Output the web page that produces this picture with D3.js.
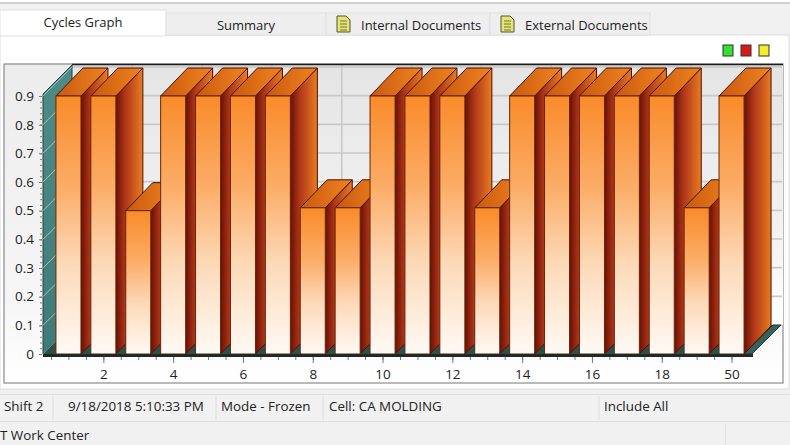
<!DOCTYPE html>
<html>
<head>
<meta charset="utf-8">
<script src="https://cdn.jsdelivr.net/npm/d3@7"></script>
<style>
  html, body { margin: 0; padding: 0; background: #fff; }
  svg { display: block; }
  text { font-family: "Open Sans", "Noto Sans", sans-serif; fill: #222; }
</style>
</head>
<body>
<svg id="chart" width="790" height="445"></svg>
<script>
"use strict";

// bars
const cycles = [1, 2, 3, 4, 5, 6, 7, 8, 9, 10, 11, 12, 13, 14, 15, 16, 17, 18, 19, 20];
const cycleValues = [0.9, 0.9, 0.5, 0.9, 0.9, 0.9, 0.9, 0.51, 0.51, 0.9, 0.9, 0.9, 0.51, 0.9, 0.9, 0.9, 0.9, 0.9, 0.51, 0.9];
const yTicks = [0, 0.1, 0.2, 0.3, 0.4, 0.5, 0.6, 0.7, 0.8, 0.9];
const xMajorTicks = [2, 4, 6, 8, 10, 12, 14, 16, 18, 20];
const xMajorLabels = ["2", "4", "6", "8", "10", "12", "14", "16", "18", "50"]; // the "50" is what the screen shows

const tabNames = ["Cycles Graph", "Summary", "Internal Documents", "External Documents"];
const statusCells = ["Shift 2", "9/18/2018 5:10:33 PM", "Mode - Frozen", "Cell: CA MOLDING", "Include All"];
const legendColors = ["#35e02e", "#d81a14", "#f7ec2c"];

const svg = d3.select("#chart");
const defs = svg.append("defs");

function gradient(id, x2, y2, stops) {
  const g = defs.append("linearGradient").attr("id", id)
    .attr("x1", 0).attr("y1", 0).attr("x2", x2).attr("y2", y2);
  stops.forEach(([o, c]) => g.append("stop").attr("offset", o).attr("stop-color", c));
}
gradient("front", 0, 1, [[0, "#f98b2a"], [0.35, "#fbac66"], [0.65, "#fcd9b8"], [1, "#fffaf5"]]);
gradient("top", 1, 0, [[0, "#c9590f"], [1, "#ef8420"]]);
gradient("side", 1, 0, [[0, "#6a1004"], [0.35, "#b0371a"], [1, "#e87c20"]]);
gradient("wallBack", 0, 1, [[0, "#e4e4e4"], [0.7, "#f4f4f4"], [1, "#ffffff"]]);
gradient("frameBg", 0, 1, [[0, "#ececec"], [0.75, "#f6f6f6"], [1, "#ffffff"]]);
gradient("tealWall", 0, 1, [[0, "#4f8c88"], [1, "#3f7c79"]]);

// page chrome
svg.append("rect").attr("width", 790).attr("height", 445).attr("fill", "#f1f1f1");
svg.append("rect").attr("width", 790).attr("height", 3).attr("fill", "#fff");
svg.append("line").attr("x1", 0).attr("x2", 790).attr("y1", 3).attr("y2", 3).attr("stroke", "#a9a9a9");
svg.append("rect").attr("x", 0).attr("y", 35).attr("width", 789).attr("height", 354).attr("fill", "#fff").attr("stroke", "#dcdcdc");

// tabs
const tabEdges = [0, 166, 326, 490, 650];
tabNames.forEach((name, i) => {
  const active = i === 0;
  svg.append("rect").attr("x", tabEdges[i]).attr("y", active ? 10 : 13)
    .attr("width", tabEdges[i + 1] - tabEdges[i]).attr("height", active ? 26 : 22)
    .attr("fill", active ? "#fff" : "#eeeeee").attr("stroke", "#e0e0e0");
  const hasIcon = i >= 2;
  if (hasIcon) {
    const ix = tabEdges[i] + 11;
    svg.append("path").attr("d", `M${ix},16 h9 l4,4 v12 h-13 z`)
      .attr("fill", "#e6e27a").attr("stroke", "#55552a");
    [21, 24, 27, 30].forEach((ly) => svg.append("line")
      .attr("x1", ix + 3).attr("x2", ix + 10).attr("y1", ly).attr("y2", ly).attr("stroke", "#6f7a2a"));
  }
  svg.append("text").text(name)
    .attr("x", active ? 83 : hasIcon ? tabEdges[i] + 35 : 246)
    .attr("y", active ? 27 : 30)
    .attr("text-anchor", hasIcon ? "start" : "middle")
    .attr("font-size", 13);
});

// legend squares
const legendX = d3.scalePoint().domain(legendColors).range([728, 764]);
svg.selectAll("rect.legend").data(legendColors).enter().append("rect")
  .attr("class", "legend")
  .attr("x", (d) => legendX(d) - 5).attr("y", 45)
  .attr("width", 10).attr("height", 11)
  .attr("fill", (d) => d).attr("stroke", "#333");

// chart frame
svg.append("rect").attr("x", 4).attr("y", 64).attr("width", 779).attr("height", 319)
  .attr("fill", "url(#frameBg)").attr("stroke", "#8a8a8a").attr("stroke-width", 1.2);

const x = d3.scaleBand().domain(cycles).range([51, 749]).padding(0.283).paddingOuter(0.1415);
const xLin = d3.scaleLinear().domain([0.5, 20.5]).range([51, 749]);
const y = d3.scaleLinear().domain([0, 0.907]).range([354, 94]);

const barDx = 27, barDy = 28; // depth of a bar
const wallDx = 29, wallDy = 29; // depth of the chart box
const left = 43, right = 752;

// back wall
svg.append("rect").attr("x", left + wallDx).attr("y", y(0.907) - wallDy - 1)
  .attr("width", 783 - left - wallDx).attr("height", y(0) - y(0.907) + 1)
  .attr("fill", "url(#wallBack)");

// back wall grid
const grid = svg.append("g").attr("stroke", "#c9c9c9").attr("stroke-width", 1.6);
grid.selectAll("line.h").data(yTicks).enter().append("line")
  .attr("x1", left + wallDx).attr("x2", 782)
  .attr("y1", (d) => y(d) - wallDy).attr("y2", (d) => y(d) - wallDy);
grid.selectAll("line.v").data(xMajorTicks).enter().append("line")
  .attr("x1", (d) => xLin(d) + wallDx).attr("x2", (d) => xLin(d) + wallDx)
  .attr("y1", y(0.907) - wallDy).attr("y2", y(0) - wallDy);

svg.append("line").attr("x1", left + wallDx).attr("x2", 783)
  .attr("y1", y(0.907) - wallDy - 0.5).attr("y2", y(0.907) - wallDy - 0.5)
  .attr("stroke", "#1c1c1c").attr("stroke-width", 1.5);

// left teal wall and floor
svg.append("path")
  .attr("d", `M${left},${y(0)} L${left},${y(0.907)} L${left + wallDx},${y(0.907) - wallDy} L${left + wallDx},${y(0) - wallDy} Z`)
  .attr("fill", "url(#tealWall)").attr("stroke", "#24403f");
svg.selectAll("line.wallgrid").data(yTicks).enter().append("line")
  .attr("x1", left).attr("x2", left + wallDx)
  .attr("y1", (d) => y(d)).attr("y2", (d) => y(d) - wallDy)
  .attr("stroke", "#b4d4d0").attr("stroke-width", 0.8);
svg.append("path")
  .attr("d", `M${left},${y(0)} L${right},${y(0)} L${right + wallDx},${y(0) - wallDy} L${left + wallDx},${y(0) - wallDy} Z`)
  .attr("fill", "#2c4f4c");
svg.append("path")
  .attr("d", `M${right - 8},${y(0)} L${right},${y(0)} L${right + wallDx},${y(0) - wallDy} L${right + wallDx - 8},${y(0) - wallDy} Z`)
  .attr("fill", "#33625f").attr("stroke", "#1e2a28").attr("stroke-width", 0.8);

// bars, left to right so each one overlaps its neighbour's side
const bars = svg.selectAll("g.bar").data(cycles.map((c, i) => ({ c, v: cycleValues[i] })))
  .enter().append("g").attr("class", "bar");
const bw = x.bandwidth();

bars.append("path")
  .attr("d", (d) => {
    const r = x(d.c) + bw;
    return `M${r},${y(d.v)} L${r + barDx},${y(d.v) - barDy} L${r + barDx},${y(0) - barDy} L${r},${y(0)} Z`;
  })
  .attr("fill", "url(#side)").attr("stroke", "#4a1004").attr("stroke-width", 1);
bars.append("path")
  .attr("d", (d) => {
    const l = x(d.c);
    return `M${l},${y(d.v)} L${l + barDx},${y(d.v) - barDy} L${l + bw + barDx},${y(d.v) - barDy} L${l + bw},${y(d.v)} Z`;
  })
  .attr("fill", "url(#top)").attr("stroke", "#4a1004").attr("stroke-width", 1);
bars.append("rect")
  .attr("x", (d) => x(d.c)).attr("y", (d) => y(d.v))
  .attr("width", bw).attr("height", (d) => y(0) - y(d.v))
  .attr("fill", "url(#front)").attr("stroke", "#6a2406").attr("stroke-width", 1);

// thick front edge of the floor
svg.append("line").attr("x1", left).attr("x2", right + 1).attr("y1", y(0) + 1.5).attr("y2", y(0) + 1.5)
  .attr("stroke", "#1e2a28").attr("stroke-width", 3);

// axes
const yAxis = d3.axisLeft(y).tickValues(yTicks).tickSize(3).tickPadding(5)
  .tickFormat((d) => (d === 0 ? "0" : d3.format(".1f")(d)));
const yMinor = d3.axisLeft(y).tickValues(d3.range(0, 0.9001, 0.02)).tickSize(2).tickFormat("");
const xMinor = d3.axisBottom(xLin).tickValues(d3.range(1, 41).map((d) => d / 2).filter((d) => d <= 20.5 && d >= 0.5)).tickSize(3).tickFormat("");
const xAxis = d3.axisBottom(xLin).tickValues(xMajorTicks).tickSize(6).tickPadding(6)
  .tickFormat((d) => xMajorLabels[xMajorTicks.indexOf(d)]);

function styleAxis(g) {
  g.select(".domain").remove();
  g.selectAll("line").attr("stroke", "#777");
  g.selectAll("text").attr("font-size", 13.5).attr("font-family", "'Open Sans', sans-serif").attr("fill", "#222");
}
svg.append("g").attr("transform", `translate(${left - 1},0)`).call(yMinor).call(styleAxis);
svg.append("g").attr("transform", `translate(${left - 1},0)`).call(yAxis).call(styleAxis);
svg.append("g").attr("transform", `translate(0,${y(0) + 3})`).call(xMinor).call(styleAxis);
svg.append("g").attr("transform", `translate(0,${y(0) + 3})`).call(xAxis).call(styleAxis);

// status bar
const statusStart = [4, 68, 221, 329, 604];
const statusSeps = [53, 216, 323, 599];
svg.append("line").attr("x1", 0).attr("x2", 790).attr("y1", 421.5).attr("y2", 421.5).attr("stroke", "#dedede");
svg.append("line").attr("x1", 0).attr("x2", 790).attr("y1", 394.5).attr("y2", 394.5).attr("stroke", "#dedede");
statusSeps.forEach((sx) => svg.append("line").attr("x1", sx).attr("x2", sx).attr("y1", 396).attr("y2", 420).attr("stroke", "#dcdcdc"));
statusCells.forEach((t, i) => svg.append("text").text(t).attr("x", statusStart[i]).attr("y", 411).attr("font-size", 13.4));
svg.append("text").text("T Work Center").attr("x", 0).attr("y", 440).attr("font-size", 13.4);
svg.append("line").attr("x1", 725.5).attr("x2", 725.5).attr("y1", 424).attr("y2", 445).attr("stroke", "#dedede");
</script>
</body>
</html>
